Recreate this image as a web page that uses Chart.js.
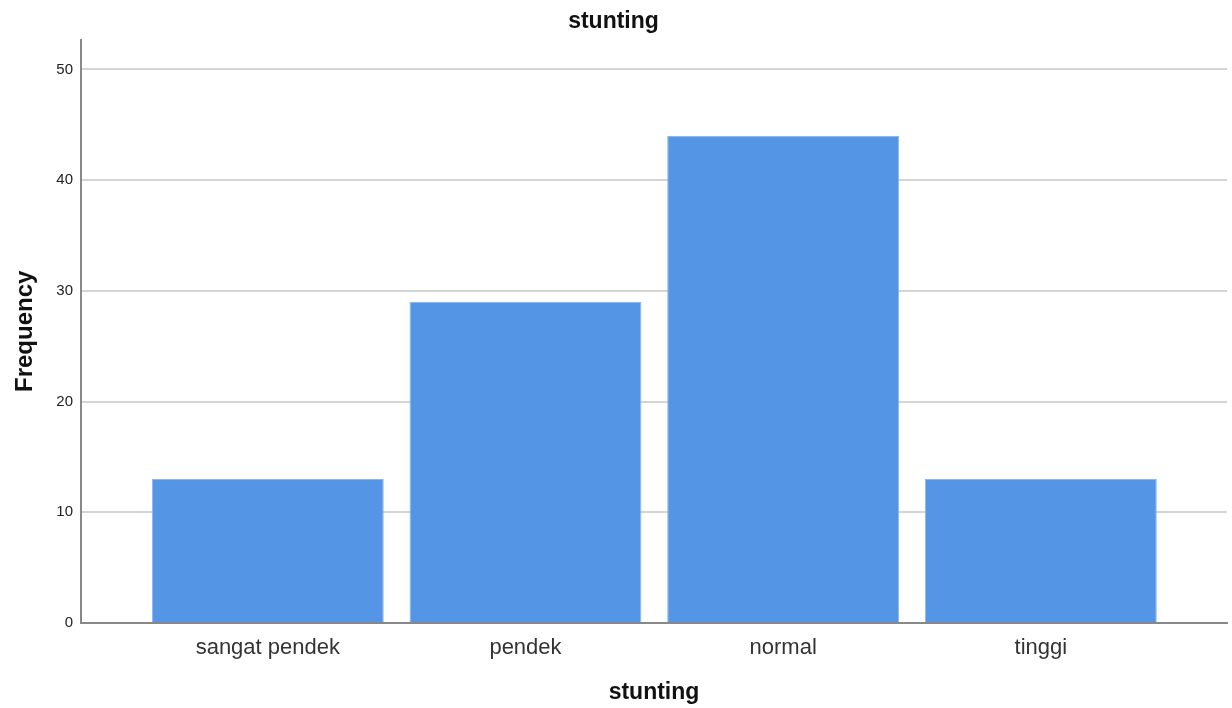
<!DOCTYPE html>
<html>
<head>
<meta charset="utf-8">
<title>stunting</title>
<script src="https://cdn.jsdelivr.net/npm/chart.js@4"></script>
<style>
  html, body { margin:0; padding:0; background:#fff; }
  #wrap { width:1232px; height:708px; }
</style>
</head>
<body>
<div id="wrap"><canvas id="bars" width="1232" height="708"></canvas></div>
<script>
// SPSS-style frequency bar chart: stunting categories
const categories = ['sangat pendek', 'pendek', 'normal', 'tinggi'];
const frequency = [13, 29, 44, 13];
const yTicks = [0, 10, 20, 30, 40, 50];

const FONT = "'Liberation Sans', Arial, sans-serif";

// bars sit on a linear x scale so the axis can run past the outer bars
const points = categories.map((c, i) => ({x: i, y: frequency[i]}));

new Chart(document.getElementById('bars'), {
  type: 'bar',
  data: {
    datasets: [{
      data: points,
      backgroundColor: '#5595e5',
      borderColor: '#8db6ee',
      borderWidth: 1,
      barPercentage: 0.9,
      categoryPercentage: 1
    }]
  },
  options: {
    responsive: false,
    animation: false,
    layout: {padding: {left: 0, right: 5, top: 0, bottom: 0}},
    plugins: {
      legend: {display: false},
      tooltip: {enabled: false},
      title: {
        display: true,
        text: 'stunting',
        color: '#111',
        font: {family: FONT, size: 23, weight: 'bold', lineHeight: 1.2},
        padding: {top: 8, bottom: 4}
      }
    },
    scales: {
      x: {
        type: 'linear',
        offset: false,
        min: -0.725,
        max: 3.7225,
        z: 1,
        afterBuildTicks: s => { s.ticks = categories.map((c, i) => ({value: i})); },
        afterFit: s => { s.height = 85; },
        ticks: {
          callback: v => categories[v],
          color: '#333',
          font: {family: FONT, size: 22},
          padding: 12,
          maxRotation: 0,
          autoSkip: false
        },
        grid: {display: false, drawTicks: false, offset: false},
        border: {display: true, color: '#888', width: 2},
        title: {
          display: true,
          text: 'stunting',
          color: '#111',
          font: {family: FONT, size: 23, weight: 'bold', lineHeight: 1.2},
          padding: {top: 0, bottom: 2}
        }
      },
      y: {
        min: 0,
        max: 52.7,
        afterBuildTicks: s => { s.ticks = yTicks.map(v => ({value: v})); },
        afterFit: s => { s.width = 81; },
        ticks: {
          color: '#222',
          font: {family: FONT, size: 15},
          padding: 8
        },
        grid: {color: '#d4d4d4', lineWidth: 2, drawTicks: false},
        border: {display: true, color: '#888', width: 2},
        title: {
          display: true,
          text: 'Frequency',
          color: '#111',
          font: {family: FONT, size: 24, weight: 'bold', lineHeight: 1.2},
          padding: {top: 11, bottom: 0}
        }
      }
    }
  }
});
</script>
</body>
</html>
